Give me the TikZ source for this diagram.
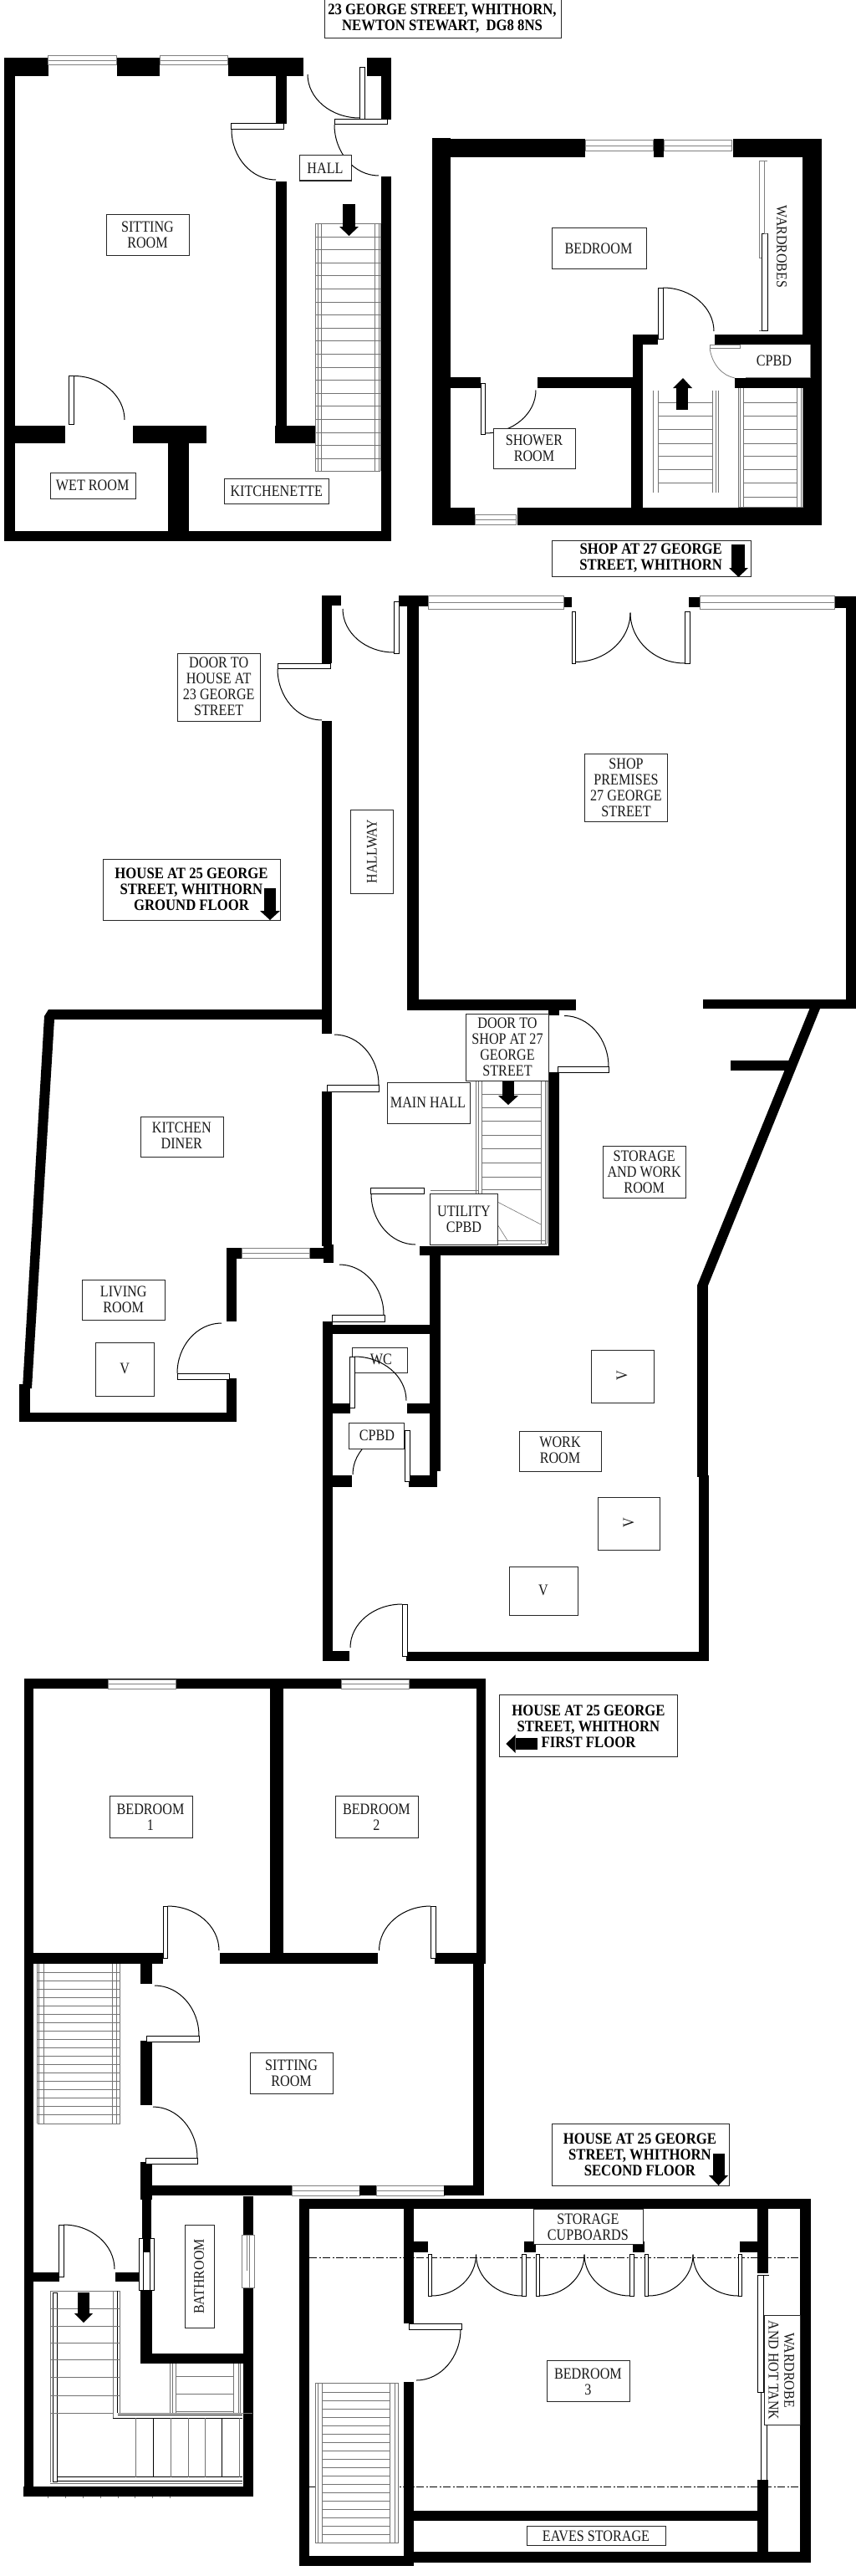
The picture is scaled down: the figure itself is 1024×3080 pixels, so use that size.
\documentclass[tikz,border=0pt]{standalone}
\usepackage{fontspec}
\usetikzlibrary{calc}
\setmainfont[FakeStretch=0.85]{Liberation Serif}
\newfontfamily\rotf[FakeStretch=0.9]{Liberation Serif}
\newfontfamily\headf[FakeStretch=0.88]{Liberation Serif}
\tikzset{
  wallfill/.style={fill=black},
  win/.style={draw=black!50,fill=white,line width=1pt},
  panl/.style={draw=black,fill=white,line width=1pt},
  swing/.style={draw=black,line width=1pt},
  boxr/.style={draw=black!85,fill=white,line width=1pt},
  txt/.style={align=center,inner sep=0pt,text=black!90,font=\fontsize{19}{18.9}\selectfont},
  btxt/.style={align=center,inner sep=0pt,text=black,font=\fontsize{19}{18.9}\headf\bfseries\selectfont},
  rtxt/.style={align=center,inner sep=0pt,text=black!90,font=\fontsize{17.7}{18.8}\rotf\selectfont},
  stairl/.style={draw=black!55,line width=.9pt},
  stairk/.style={draw=black,line width=.9pt},
}
\newcommand\wallr[4]{\fill[wallfill] (#1,#2) rectangle (#3,#4);}
\newcommand\winr[4]{\draw[win] (#1,#2) rectangle (#3,#4);\draw[win] (#1,{(#2+#4)/2}) -- (#3,{(#2+#4)/2});}
\newcommand\panr[4]{\draw[panl] (#1,#2) rectangle (#3,#4);}
\newcommand\swg[6]{\draw[swing] (#1,#2) .. controls ($(#1,#2)!0.55!(#3,#4)$) and ($(#5,#6)!0.55!(#3,#4)$) .. (#5,#6);}
\newcommand\bxr[4]{\draw[boxr] (#1,#2) rectangle (#3,#4);}
\begin{document}
\begin{tikzpicture}[x=1pt,y=-1pt]
\useasboundingbox (0,0) rectangle (1024,3080);
\fill[white] (0,0) rectangle (1024,3080);

% ---------- title
\bxr{388}{0}{671}{46}
\node[btxt] (title) at (529,22.5) {23 GEORGE STREET, WHITHORN,\\NEWTON STEWART,\ \ DG8 8NS};

% ---------- plan 1 : 23 George Street ground
\wallr{5}{69}{58}{91}
\wallr{140}{69}{191}{91}
\wallr{273}{69}{363}{91}
\winr{57}{67}{139}{78}
\winr{191}{67}{272}{78}
\wallr{330}{91}{343}{148}
\wallr{330}{217}{343}{509}
\wallr{329}{509}{378}{530}
\wallr{5}{69}{18}{647}
\wallr{5}{635}{468}{647}
\wallr{18}{509}{78}{530}
\wallr{159}{509}{247}{530}
\wallr{201}{530}{226}{635}
\wallr{439}{69}{468}{91}
\wallr{456}{91}{468}{143}
\wallr{456}{211}{468}{647}
\swg{277}{155}{277}{215}{330}{215}
\panr{276}{148}{339}{155}
\swg{88}{449.5}{149}{449.5}{149}{502}
\panr{82}{449.5}{88}{507}
\swg{368}{89}{368}{141}{430}{141}
\panr{430}{81}{436}{143}
\swg{400}{149}{400}{210}{453}{210}
\panr{400}{143}{463}{149}
\foreach \xx in {377.3,380,384.3,448.3,453.3,455.3} \draw[stairl] (\xx,267) -- (\xx,563);
\draw[stairl] (377.3,267) -- (455.3,267) (377.3,563) -- (455.3,563);
\foreach \i in {0,...,17} \draw[stairl] (377.3,{283+15.6*\i}) -- (455.3,{283+15.6*\i});
\fill (410,244) rectangle (425,271);
\fill (406,271) -- (429,271) -- (417.5,282) -- cycle;
\bxr{358}{186}{420}{216}
\node[txt] (hall) at (389,201) {HALL};
\bxr{127}{256}{226}{305}
\node[txt] (sit) at (176.5,281) {SITTING\\ROOM};
\bxr{60}{565}{162}{596}
\node[txt] (wet) at (110.7,580) {WET ROOM};
\bxr{268}{572}{393}{602}
\node[txt] (kitte) at (330.7,587) {KITCHENETTE};

% ---------- plan 2 : first floor of 23
\wallr{517}{165}{539}{628}
\wallr{517}{166}{700}{188}
\wallr{782}{166}{794}{188}
\wallr{877}{166}{983}{188}
\wallr{960}{168}{983}{628}
\wallr{517}{607}{568}{628}
\wallr{619}{607}{983}{628}
\winr{700}{168}{781}{181}
\winr{794}{168}{875}{181}
\winr{568}{615}{617}{627}
\wallr{539}{451}{575}{464}
\wallr{643}{451}{757}{464}
\wallr{755}{464}{769}{607}
\wallr{757}{400}{769}{464}
\wallr{757}{400}{787}{412}
\wallr{855}{400}{960}{412}
\wallr{879}{452}{960}{464}
\swg{580}{518}{641}{518}{641}{466.5}
\panr{575}{458}{580}{519}
\swg{793}{344}{854}{344}{854}{396}
\panr{787}{344}{793}{405}
\draw[win] (908,193) rectangle (914,308);
\draw[win] (908,193) -- (918,193);
\draw[panl] (911,279) rectangle (918,395);
\draw[stairl] (911,395) -- (908,395) (918,279) -- (914,279);
\fill[white] (885,412) rectangle (969,451);
\draw[draw=black!50,line width=1pt] (969,412) -- (969,451) -- (892,451);
\draw[draw=black!50,line width=.8pt] (849,412) rectangle (885,416.5);
\draw[draw=black!50,line width=.8pt] (849,416.5) .. controls (852,436) and (864,449) .. (879,452);
\foreach \xx in {781.3,787.3,852,856,859.7} \draw[stairl] (\xx,467) -- (\xx,589);
\foreach \yy in {481,497,513,530,545.5,561.6,577} \draw[stairl] (787.3,\yy) -- (852,\yy);
\fill (809,490) rectangle (823,464);
\fill (805,464) -- (828,464) -- (817,452) -- cycle;
\foreach \xx in {883.7,885.3,889.3,953.7,958.7,960.3} \draw[stairl] (\xx,464) -- (\xx,607);
\foreach \yy in {481,497,513,530,545.5,561.6,577,594} \draw[stairl] (889.3,\yy) -- (953.7,\yy);
\draw[stairl] (883.7,606.5) -- (960,606.5);
\bxr{660}{272}{773}{321}
\node[txt] (bed) at (716,297) {BEDROOM};
\bxr{590}{512}{688}{560}
\node[txt] (show) at (639,536) {SHOWER\\ROOM};
\node[rtxt,rotate=-90] (ward) at (935,295) {WARDROBES};
\node[txt] (cpbd1) at (926,431) {CPBD};
\bxr{660}{646}{898}{689}
\node[btxt] (shop) at (778.7,667) {SHOP AT 27 GEORGE\\STREET, WHITHORN};
\fill (875,651) rectangle (891,679);
\fill (872,679) -- (895,679) -- (883.5,690) -- cycle;

% ---------- ground floor
\wallr{385}{712}{408}{724}
\wallr{385}{712}{397}{793}
\wallr{385}{862}{397}{1236}
\wallr{477}{712}{512}{725}
\wallr{487}{725}{501}{1208}
\wallr{674}{714}{684}{726}
\wallr{824}{714}{837}{726}
\wallr{998}{713}{1024}{727}
\wallr{1012}{727}{1024}{1206}
\wallr{487}{1195}{689}{1208}
\wallr{841}{1195}{1024}{1206}
\winr{512}{712}{674}{728}
\winr{837}{712}{998}{728}
\fill (968.5,1206) -- (981,1206) -- (847,1537) -- (834,1537) -- cycle;
\wallr{874}{1267.5}{943.5}{1280}
\wallr{834}{1537}{847}{1766}
\wallr{836}{1764}{848}{1986}
\wallr{486}{1974.5}{848}{1986}
\swg{332}{799.5}{332}{861}{385}{861}
\panr{332}{793}{395}{799.5}
\swg{410}{728}{410}{780}{471}{780}
\panr{471}{719}{477}{781}
\swg{688}{791.5}{754}{791.5}{754}{732.6}
\panr{684}{731}{688}{793}
\swg{754}{732.6}{754}{793}{819}{793}
\panr{819}{731}{825}{793}
\wallr{656}{1208}{669}{1213.6}
\swg{675}{1214.5}{728}{1214.5}{728}{1275.5}
\panr{667}{1275.5}{728.5}{1282}
\wallr{656}{1282}{669}{1501}
\wallr{502}{1490}{669}{1501}
% kitchen / living
\wallr{58}{1207}{385}{1219}
\fill (53,1215) -- (58,1207) -- (65,1219) -- (38,1660) -- (27,1660) -- cycle;
\wallr{23}{1655}{36}{1700}
\wallr{23}{1689}{283}{1700}
\wallr{271}{1648}{283}{1689}
\wallr{271}{1492}{283}{1580}
\wallr{271}{1492}{289}{1505}
\wallr{370}{1492}{397}{1505}
\winr{289}{1492}{370}{1504.6}
\wallr{385}{1305}{397}{1490}
\wallr{387}{1488}{399}{1510}
\swg{212}{1642}{212}{1582}{265}{1582}
\panr{212}{1642}{274}{1649}
\swg{400}{1237}{453}{1237}{453}{1297}
\panr{391}{1297}{453}{1305}
\swg{406}{1512}{459}{1512}{459}{1572}
\panr{397}{1572}{460}{1580}
% wc block
\wallr{386}{1580}{397.5}{1986}
\wallr{397}{1584}{527}{1595}
\wallr{514}{1501}{527}{1759}
\wallr{514}{1595}{523}{1778}
\wallr{397}{1678}{419}{1690}
\wallr{487}{1678}{515}{1690}
\wallr{397}{1764}{421}{1778}
\wallr{489}{1764}{523}{1778}
\wallr{386}{1974}{418}{1986}
\bxr{421}{1611}{487}{1641}
\node[txt] (wc) at (456,1625) {WC};
\swg{424}{1622}{486}{1622}{486}{1674.5}
\panr{418}{1622}{424}{1683}
\swg{484}{1710}{422}{1710}{422}{1763}
\bxr{417}{1701}{483}{1732}
\node[txt] (cpbd2) at (451,1716) {CPBD};
\panr{484}{1710}{490}{1771}
\swg{481}{1918}{419}{1918}{419}{1970}
\panr{481}{1918}{487}{1980}
% stairs in main hall
\foreach \xx in {569,572,576,647,652,654} \draw[stairl] (\xx,1292) -- (\xx,1487);
\foreach \yy in {1308,1324,1340,1357,1373.5,1390,1407,1422.5} \draw[stairl] (576,\yy) -- (647,\yy);
\draw[stairl] (515,1423) -- (572,1423);
\draw[stairl,line width=.6pt] (595,1437) -- (647,1464) (595,1464) -- (607,1483);
\draw[stairl] (595,1483) -- (653,1483) (595,1487) -- (654,1487);
\fill (601,1292) rectangle (615,1310);
\fill (596,1310) -- (620,1310) -- (608,1321) -- cycle;
\swg{444}{1427}{444}{1488}{497}{1488}
\panr{443}{1420}{507}{1427}
\bxr{514}{1427}{595}{1488}
\node[txt] (util) at (555,1457.6) {UTILITY\\CPBD};
\bxr{463}{1294}{562}{1343}
\node[txt] (mainh) at (512,1318) {MAIN HALL};
\bxr{557}{1212}{656}{1292}
\node[txt] (dshop) at (607,1251.5) {DOOR TO\\SHOP AT 27\\GEORGE\\STREET};
\bxr{212}{781}{311}{862}
\node[txt] (dhouse) at (261.7,821) {DOOR TO\\HOUSE AT\\23 GEORGE\\STREET};
\bxr{123}{1027}{335}{1100}
\node[btxt] (hgf) at (229,1063) {HOUSE AT 25 GEORGE\\STREET, WHITHORN\\GROUND FLOOR};
\fill (316,1062) rectangle (330,1089);
\fill (311,1089) -- (335,1089) -- (323,1100) -- cycle;
\bxr{419}{968}{470}{1068}
\node[rtxt,rotate=90] (hallw) at (445,1018) {HALLWAY};
\bxr{699}{901}{798}{982}
\node[txt] (prem) at (749,942) {SHOP\\PREMISES\\27 GEORGE\\STREET};
\bxr{721}{1370}{820}{1432}
\node[txt] (stor) at (770.7,1401) {STORAGE\\AND WORK\\ROOM};
\bxr{707}{1614}{782}{1677}
\node[txt,rotate=90] (v1) at (744,1645) {V};
\bxr{715}{1790}{789}{1853}
\node[txt,rotate=90] (v2) at (752,1821) {V};
\bxr{609}{1873}{691}{1931}
\node[txt] (v3) at (650,1901) {V};
\bxr{621}{1711}{719}{1759}
\node[txt] (work) at (670,1734) {WORK\\ROOM};
\bxr{168}{1335}{267}{1383}
\node[txt] (kit) at (217.3,1358) {KITCHEN\\DINER};
\bxr{98}{1530}{197}{1578}
\node[txt] (liv) at (147.7,1553.6) {LIVING\\ROOM};
\bxr{114}{1605}{184}{1669}
\node[txt] (v4) at (149.3,1636) {V};

% ---------- first floor
\wallr{29}{2007}{581}{2019}
\winr{129}{2008}{210}{2019}
\winr{408}{2008}{489}{2019}
\wallr{28.7}{2007}{40}{2985}
\wallr{28}{2973}{302}{2985}
\wallr{323}{2019}{339}{2335}
\wallr{569.5}{2019}{581}{2348}
\wallr{566}{2348}{578.6}{2625}
\wallr{29}{2335}{195}{2348}
\wallr{263}{2335}{452}{2348}
\wallr{520}{2335}{570}{2348}
\swg{200.5}{2279}{262}{2279}{262}{2332}
\panr{195}{2279}{200.5}{2341}
\swg{515}{2279}{453.5}{2279}{453.5}{2332}
\panr{515}{2279}{521}{2341}
\wallr{168}{2348}{182}{2372}
\wallr{168}{2440}{182}{2517}
\wallr{168}{2585}{182}{2630}
\swg{185}{2374}{238}{2374}{238}{2434}
\panr{175}{2434}{238}{2441}
\swg{183}{2519}{236}{2519}{236}{2580}
\panr{174}{2580}{236.5}{2587}
\wallr{182}{2613}{349}{2625}
\winr{349}{2613}{430}{2625}
\wallr{430}{2613}{450}{2625}
\winr{450}{2613}{531}{2625}
\wallr{531}{2613}{578.6}{2625}
\foreach \xx in {44.8,46.7,52.4,134,139.7,143.5} \draw[stairl] (\xx,2348) -- (\xx,2539);
\draw[stairl] (44.8,2539) -- (143.5,2539);
\foreach \i in {0,...,17} \draw[stairl] (44.8,{2358+10*\i}) -- (143.5,{2358+10*\i});
\bxr{131}{2147.5}{230}{2197}
\node[txt] (b1) at (180,2172.4) {BEDROOM\\1};
\bxr{401.5}{2147.5}{500.5}{2197}
\node[txt] (b2) at (450.4,2172.4) {BEDROOM\\2};
\bxr{299}{2454.5}{398}{2503.5}
\node[txt] (sit2) at (348.6,2479) {SITTING\\ROOM};
\bxr{597.3}{2026}{810}{2100.3}
\node[btxt] (hff) at (704,2064) {HOUSE AT 25 GEORGE\\STREET, WHITHORN\\FIRST FLOOR};
\fill (616.7,2078) rectangle (643.3,2091.7);
\fill (605.3,2085) -- (616.7,2074) -- (616.7,2096) -- cycle;
% bathroom and lower stairs
\wallr{170}{2630}{181}{2677}
\draw[panl] (166,2676) rectangle (184,2738);
\draw[stairk] (171,2676) -- (171,2738) (179,2676) -- (179,2738);
\wallr{171}{2677}{179}{2693}
\wallr{168}{2738}{182}{2826}
\wallr{291}{2626}{303}{2672}
\wallr{291}{2735}{303}{2985}
\wallr{168}{2814}{303}{2826}
\draw[win] (289,2672) rectangle (304,2735);
\draw[win] (295,2672) -- (295,2715) (298,2672) -- (298,2735);
\wallr{40}{2717}{71}{2728}
\wallr{138}{2717}{166}{2728}
\swg{76}{2660}{137}{2660}{137}{2713}
\panr{70}{2660}{76}{2722}
\draw[stairl] (60,2739) -- (143.7,2739);
\draw[stairl] (60,2739) -- (60,2968);
\draw[stairk] (63.3,2741) rectangle (68.3,2967);
\draw[stairl] (135,2739) -- (135,2891) (143.7,2739) -- (143.7,2885);
\draw[stairk] (140.7,2739) -- (140.7,2885);
\foreach \yy in {2760,2781,2801.7,2821.7,2842.7,2864} \draw[stairl] (60,\yy) -- (143.7,\yy);
\draw[stairl] (60,2885) -- (135,2885);
\draw[stairl] (140.7,2885) -- (302,2885);
\draw[stairk] (140.7,2887) -- (290,2887) (135,2891) -- (290,2891);
\draw[stairk] (68,2961.7) -- (290,2961.7);
\draw[stairk] (68,2966.7) -- (290,2966.7);
\draw[stairl] (60,2969.3) -- (290,2969.3);
\foreach \xx/\st in {162.7/stairl,183.3/stairk,204/stairl,225/stairl,245/stairl,265.7/stairk,286.7/stairl} \draw[\st] (\xx,2891) -- (\xx,2961.7);
\foreach \xx in {203.3,206,210,279.3,285,287.3} \draw[stairl] (\xx,2826) -- (\xx,2885);
\foreach \yy in {2841.7,2862.7,2883} \draw[stairl] (210,\yy) -- (279.3,\yy);
\foreach \i in {0,...,7} \draw[stairl,line width=.6pt] ({57.7+20.8*\i},2985) -- ({57.7+20.8*\i},2987);
\fill (93,2741) rectangle (107,2766);
\fill (89,2766) -- (111,2766) -- (100,2777) -- cycle;
\bxr{221}{2660}{256}{2783}
\node[rtxt,rotate=90] (bath) at (238,2722) {BATHROOM};

% ---------- second floor
\draw[black,line width=.8pt,dash pattern=on 9pt off 2.5pt on 2pt off 2.5pt] (370,2699.5) -- (957,2699.5) (370,2973.5) -- (957,2973.5);
\wallr{357.5}{2629}{969.6}{2641}
\wallr{357.5}{2629}{370}{3068}
\wallr{957}{2629}{969.6}{3064}
\wallr{495}{3051}{969.6}{3064}
\wallr{357.5}{3056}{495}{3068}
\wallr{483}{2641}{495}{2778}
\wallr{483}{2847.5}{495}{3068}
\wallr{495}{2680}{512}{2692.5}
\wallr{627}{2680}{641}{2692.5}
\wallr{757}{2680}{771}{2692.5}
\wallr{885.4}{2680}{906}{2692.5}
\wallr{906}{2641}{919}{2718}
\wallr{906}{2965}{919}{3051}
\wallr{495}{3001.6}{906}{3013.5}
\swg{551}{2785}{551}{2846}{498}{2846}
\panr{489}{2778}{552}{2785}
\foreach \a/\b/\c/\d/\e/\f in {512/516/569.5/624.5/629/0,641/645/699/753.6/758/0,771/775.4/829/883/887.6/0}{
  \panr{\a}{2695}{\b}{2745}
  \panr{\d}{2695}{\e}{2745}
  \swg{\b}{2745}{\c}{2745}{\c}{2695.6}
  \swg{\c}{2695.6}{\c}{2745}{\d}{2745}
}
\foreach \i in {377.5,380,385.4,466.5,472,476.6} \draw[stairl] (\i,2849) -- (\i,3040.5);
\fill[white] (377.5,2965) rectangle (476.6,2980);
\foreach \i in {377.5,380,385.4,466.5,472,476.6} \draw[stairl] (\i,2960) -- (\i,2985);
\draw[stairl] (377.5,2849) -- (476.6,2849) (377.5,3040.5) -- (476.6,3040.5);
\foreach \i in {0,...,17} \draw[stairl] (385.4,{2860+10*\i}) -- (466.5,{2860+10*\i});
\draw[panl] (906,2720.5) rectangle (913,2860.5);
\draw[panl] (910.7,2860.5) rectangle (917,2965);
\draw[panl] (906,2720.5) -- (920,2720.5);
\bxr{914}{2768.6}{957}{2899}
\node[rtxt,rotate=-90] (wht) at (934.7,2834) {WARDROBE\\AND HOT TANK};
\bxr{638.4}{2641}{769}{2683}
\node[txt] (cupb) at (703.4,2662.5) {STORAGE\\CUPBOARDS};
\bxr{654.6}{2822}{753}{2871.4}
\node[txt] (b3) at (703.4,2847.5) {BEDROOM\\3};
\bxr{630.6}{3020}{796.4}{3043.7}
\node[txt] (eaves) at (713,3032) {EAVES STORAGE};
\bxr{660.7}{2539}{872}{2613}
\node[btxt] (hsf) at (765.4,2576) {HOUSE AT 25 GEORGE\\STREET, WHITHORN\\SECOND FLOOR};
\fill (852.6,2574.6) rectangle (866.6,2601);
\fill (848,2601) -- (871,2601) -- (859.5,2613) -- cycle;
\end{tikzpicture}
\end{document}
